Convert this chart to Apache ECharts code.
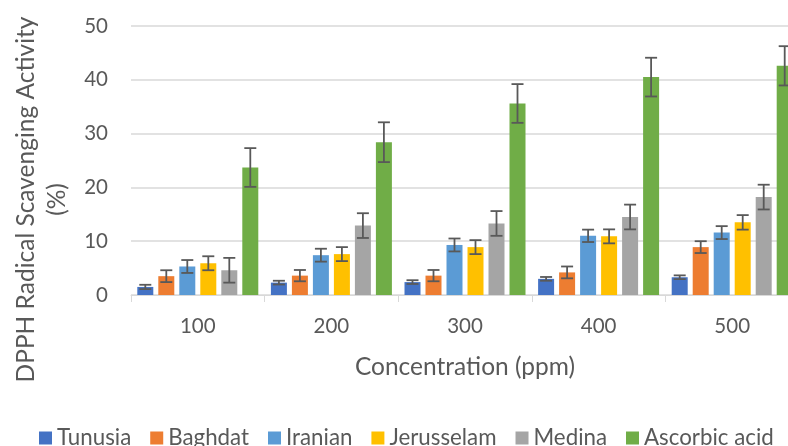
<!DOCTYPE html>
<html>
<head>
<meta charset="utf-8">
<script src="https://cdn.jsdelivr.net/npm/echarts@6/dist/echarts.min.js"></script>
<style>html,body{margin:0;padding:0;background:#fff;}#c{width:788px;height:446px;}</style>
</head>
<body>
<div id="c"></div>
<script>
var categories = ['100', '200', '300', '400', '500'];
var seriesNames = ['Tunusia', 'Baghdat', 'Iranian', 'Jerusselam', 'Medina', 'Ascorbic acid'];
var tunusia = [1.5, 2.3, 2.4, 3.0, 3.3];
var baghdat = [3.5, 3.6, 3.6, 4.2, 8.9];
var iranian = [5.3, 7.4, 9.3, 11.0, 11.6];
var jerusselam = [5.9, 7.6, 8.9, 10.9, 13.5];
var medina = [4.6, 12.9, 13.3, 14.5, 18.2];
var ascorbic = [23.7, 28.4, 35.6, 40.5, 42.6];
var tunusiaErr = [0.4, 0.35, 0.35, 0.35, 0.35];
var baghdatErr = [1.1, 1.05, 1.05, 1.1, 1.1];
var iranianErr = [1.2, 1.2, 1.2, 1.15, 1.2];
var jerusselamErr = [1.3, 1.3, 1.3, 1.3, 1.35];
var medinaErr = [2.3, 2.3, 2.3, 2.3, 2.3];
var ascorbicErr = [3.6, 3.7, 3.6, 3.6, 3.65];
var yTicks = [0, 10, 20, 30, 40, 50];

var values = [tunusia, baghdat, iranian, jerusselam, medina, ascorbic];
var errors = [tunusiaErr, baghdatErr, iranianErr, jerusselamErr, medinaErr, ascorbicErr];
var colors = ['#4472C4', '#ED7D31', '#5B9BD5', '#FFC000', '#A5A5A5', '#70AD47'];
var FONT = 'Lato';
var BAR_W = 16, BAR_GAP_PX = 5;

var series = [];
values.forEach(function (v, i) {
  series.push({
    name: seriesNames[i], type: 'bar', data: v,
    barWidth: BAR_W, barGap: (BAR_GAP_PX / BAR_W * 100) + '%',
    itemStyle: { color: colors[i] }, z: 2
  });
});
values.forEach(function (v, i) {
  var data = v.map(function (val, k) { return [k, val, errors[i][k]]; });
  series.push({
    name: seriesNames[i] + ' err', type: 'custom', z: 5,
    data: data,
    renderItem: function (params, api) {
      var k = api.value(0), val = api.value(1), e = api.value(2);
      var off = (i - 2.5) * (BAR_W + BAR_GAP_PX);
      var top = api.coord([k, val + e]);
      var bot = api.coord([k, val - e]);
      var x = top[0] + off;
      var cap = 6;
      var st = { stroke: '#595959', lineWidth: 1.8 };
      return { type: 'group', children: [
        { type: 'line', shape: { x1: x, y1: top[1], x2: x, y2: bot[1] }, style: st },
        { type: 'line', shape: { x1: x - cap, y1: top[1], x2: x + cap, y2: top[1] }, style: st },
        { type: 'line', shape: { x1: x - cap, y1: bot[1], x2: x + cap, y2: bot[1] }, style: st }
      ]};
    }
  });
});

var chart = echarts.init(document.getElementById('c'), null, { renderer: 'canvas' });
chart.setOption({
  animation: false,
  textStyle: { fontFamily: FONT },
  grid: { left: 131, right: -11, top: 26, bottom: 151, containLabel: false, outerBoundsMode: 'none' },
  legend: {
    data: seriesNames, left: 39, top: 427, padding: 0,
    icon: 'rect', itemWidth: 13, itemHeight: 13, itemGap: 19,
    textStyle: { fontFamily: FONT, fontSize: 22.3, color: '#595959' }
  },
  xAxis: {
    type: 'category', data: categories,
    name: 'Concentration (ppm)', nameLocation: 'middle', nameGap: 60,
    nameTextStyle: { fontFamily: FONT, fontSize: 24.5, color: '#595959' },
    axisLine: { lineStyle: { color: '#D9D9D9', width: 1 } },
    axisTick: { show: true, length: 7, lineStyle: { color: '#D9D9D9' } },
    axisLabel: { fontFamily: FONT, fontSize: 20.5, color: '#595959', margin: 21 }
  },
  yAxis: {
    type: 'value', min: yTicks[0], max: yTicks[yTicks.length - 1], interval: 10,
    name: 'DPPH Radical Scavenging Activity\n(%)', nameLocation: 'middle', nameGap: 58,
    nameTextStyle: { fontFamily: FONT, fontSize: 24.5, color: '#595959', lineHeight: 31, padding: [0, 78, 0, 0] },
    axisLine: { show: false }, axisTick: { show: false },
    splitLine: { lineStyle: { color: '#D9D9D9', width: 1.5 } },
    axisLabel: { fontFamily: FONT, fontSize: 20.5, color: '#595959', margin: 23 }
  },
  series: series
});
</script>
</body>
</html>
